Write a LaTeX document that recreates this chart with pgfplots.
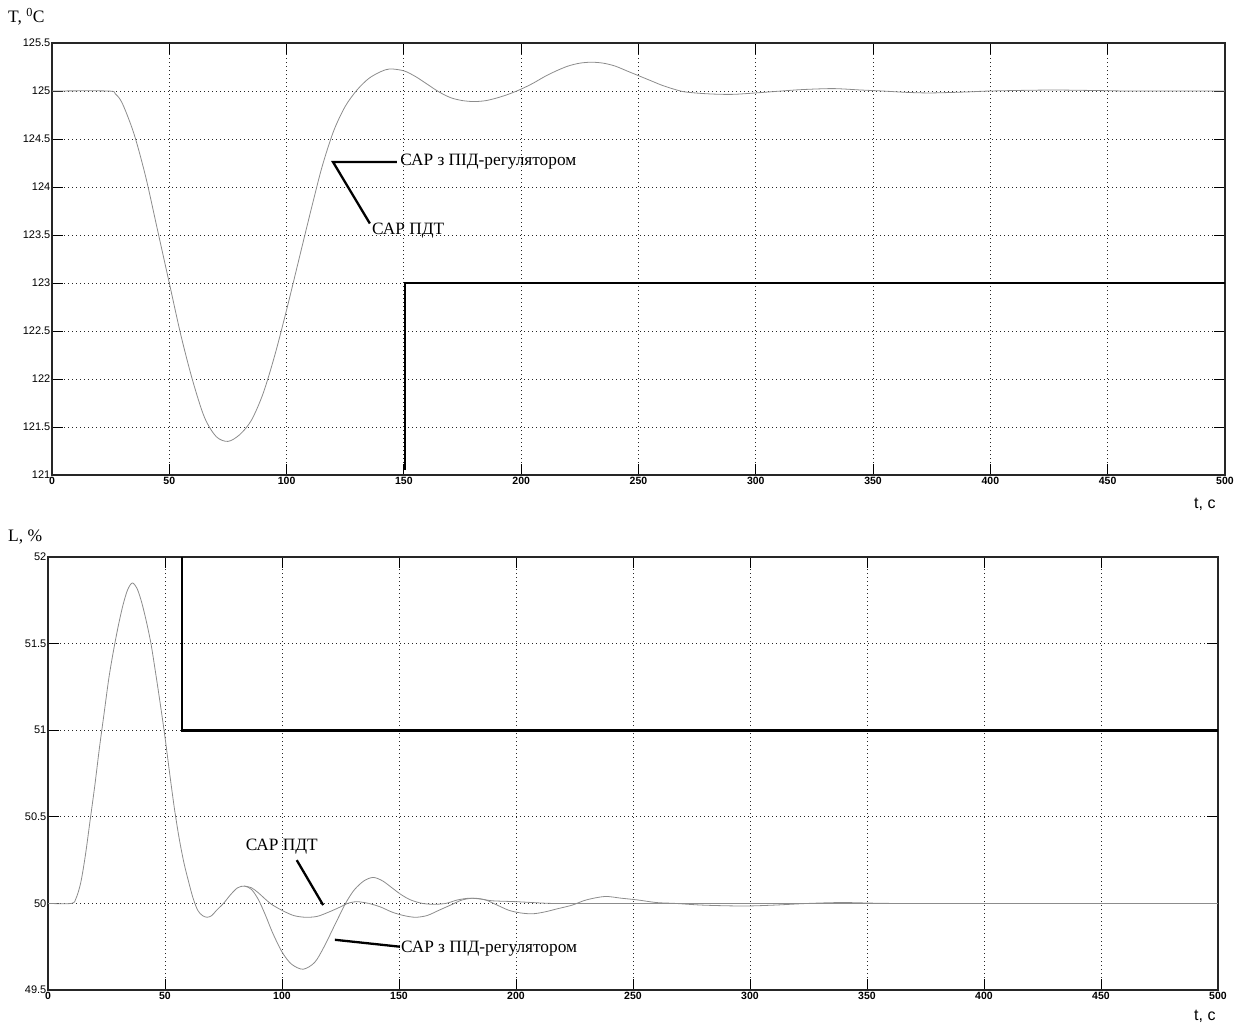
\documentclass[border=0pt]{standalone}
\usepackage{fontspec}
\setmainfont{Liberation Serif}
\newfontfamily\arialf{Liberation Sans}
\usepackage{pgfplots}
\pgfplotsset{compat=1.18}

\pgfplotsset{
  mystyle/.style={
    scale only axis,
    xmin=0, xmax=500,
    xtick={0,50,...,500},
    grid=major,
    grid style={black!85, line width=0.8pt, dash pattern=on 0.8pt off 3.2pt},
    tick align=inside,
    major tick length=11pt,
    tick style={black, line width=0.9pt},
    axis line style={black!85, line width=1.1pt},
    /pgf/number format/assume math mode=true,
    /pgf/number format/fixed,
    /pgf/number format/precision=1,
    tick label style={font=\arialf\fontsize{11}{12}\selectfont, inner sep=1.5pt},
    xticklabel style={font=\arialf\bfseries\fontsize{10.5}{12}\selectfont},
    clip=true,
  },
}
\tikzset{
  resp/.style={color=black!45, line width=0.8pt, smooth, tension=0.5},
  stepline/.style={black, line width=2.8pt},
  lead/.style={black, line width=2.3pt},
  lbl/.style={anchor=west, font=\fontsize{17.3}{19}\selectfont, inner sep=1pt},
}

\begin{document}
\begin{tikzpicture}
\useasboundingbox (0,0) rectangle (1237pt,-1023pt);

% ---------------- top panel ----------------
\begin{axis}[mystyle,
  at={(52pt,-43pt)}, anchor=north west,
  width=1173pt, height=432pt,
  ymin=121, ymax=125.5,
  ytick={121,121.5,...,125.5},
]
\addplot[resp] coordinates {
(0,125) (24,125) (27,124.97) (30,124.87) (35,124.55) (40,124.1) (45,123.55) (50,123.0)
(55,122.45) (60,121.98) (65,121.6) (70,121.4) (75,121.35) (80,121.42)
(85,121.57) (90,121.85) (95,122.25) (100,122.72) (105,123.22) (110,123.72)
(115,124.2) (120,124.58) (125,124.84) (130,125.01) (135,125.13) (140,125.2)
(144,125.23) (150,125.21) (155,125.15) (160,125.07) (165,124.99) (170,124.93)
(175,124.9) (180,124.89) (185,124.9) (190,124.93) (195,124.97) (200,125.02)
(205,125.08) (210,125.15) (215,125.21) (220,125.26) (225,125.29) (230,125.3)
(235,125.29) (240,125.26) (245,125.21) (250,125.16) (255,125.11) (260,125.06)
(265,125.02) (270,124.99) (280,124.97) (290,124.965) (300,124.98) (311,125.0)
(320,125.015) (333,125.025) (345,125.01) (354,125.0) (365,124.985) (375,124.98)
(390,124.99) (400,125.0) (425,125.01) (445,125.005) (460,125.0) (500,125.0)
};
\addplot[stepline] coordinates {(150.5,121.05) (150.5,123.0) (500,123.0)};
\draw[lead] (axis cs:147,124.26) -- (axis cs:119.8,124.26) -- (axis cs:135.5,123.62);
\node[lbl] at (axis cs:148,124.26) {САР з ПІД-регулятором};
\node[lbl] at (axis cs:136,123.55) {САР ПДТ};
\end{axis}

% ---------------- bottom panel ----------------
\begin{axis}[mystyle,
  at={(48pt,-557pt)}, anchor=north west,
  width=1170pt, height=433pt,
  ymin=49.5, ymax=52,
  ytick={49.5,50,...,52},
]
% САР з ПІД-регулятором
\addplot[resp] coordinates {
(0,50) (10,50) (12,50.03) (14,50.12) (16,50.28) (18,50.48) (20,50.68) (22,50.9)
(24,51.1) (26,51.3) (28,51.46) (30,51.6) (32,51.72) (34,51.81) (36,51.85)
(38,51.82) (40,51.74) (42,51.63) (44,51.5) (46,51.33) (48,51.15) (50,50.96)
(52,50.75) (54,50.55) (56,50.38) (58,50.24) (60,50.13) (62,50.03) (64,49.96)
(66,49.93) (68,49.92) (70,49.93) (72,49.96) (75,50.0) (78,50.05) (81,50.09)
(84,50.1) (87,50.08) (90,50.02) (93,49.93) (96,49.83) (100,49.72) (104,49.65)
(109,49.62) (114,49.66) (118,49.75) (122,49.86) (126,49.97) (128,50.02)
(131,50.08) (135,50.13) (139,50.15) (143,50.13) (147,50.09) (151,50.05)
(155,50.02) (160,50.0) (165,49.995) (170,50.0) (175,50.02) (180,50.03)
(185,50.025) (190,50.015) (200,50.01) (215,50.0) (230,50.0) (260,50.0)
(300,50.0) (500,50.0)
};
% САР ПДТ
\addplot[resp] coordinates {
(84,50.1) (87,50.09) (90,50.06) (95,50.0) (100,49.96) (105,49.93) (110,49.92)
(115,49.925) (120,49.95) (125,49.98) (128,50.0) (132,50.01) (137,50.0)
(142,49.98) (147,49.95) (152,49.93) (157,49.92) (162,49.93) (167,49.96)
(172,49.99) (177,50.02) (182,50.03) (187,50.02) (192,49.99) (197,49.96)
(202,49.945) (207,49.94) (212,49.95) (218,49.97) (224,49.99) (230,50.02)
(238,50.04) (245,50.03) (252,50.02) (260,50.005) (268,50.0) (280,49.99)
(297,49.985) (310,49.99) (325,50.0) (340,50.005) (360,50.0) (400,50.0) (500,50.0)
};
\addplot[stepline] coordinates {(57.3,52.0) (57.3,51.0) (500,51.0)};
\draw[lead] (axis cs:106.3,50.25) -- (axis cs:117.6,49.99);
\draw[lead] (axis cs:122.6,49.79) -- (axis cs:150.4,49.75);
\node[lbl] at (axis cs:84,50.33) {САР ПДТ};
\node[lbl] at (axis cs:150.4,49.74) {САР з ПІД-регулятором};
\end{axis}

% axis labels
\node[anchor=west, font=\fontsize{17.5}{19}\selectfont, inner sep=0pt] at (8pt,-17pt) {T, \textsuperscript{0}C};
\node[anchor=west, font=\fontsize{17.5}{19}\selectfont, inner sep=0pt] at (8pt,-537pt) {L, \%};
\node[anchor=west, font=\arialf\fontsize{16}{18}\selectfont, inner sep=0pt] at (1194pt,-504pt) {t, c};
\node[anchor=west, font=\arialf\fontsize{16}{18}\selectfont, inner sep=0pt] at (1194pt,-1016pt) {t, c};
\end{tikzpicture}
\end{document}
